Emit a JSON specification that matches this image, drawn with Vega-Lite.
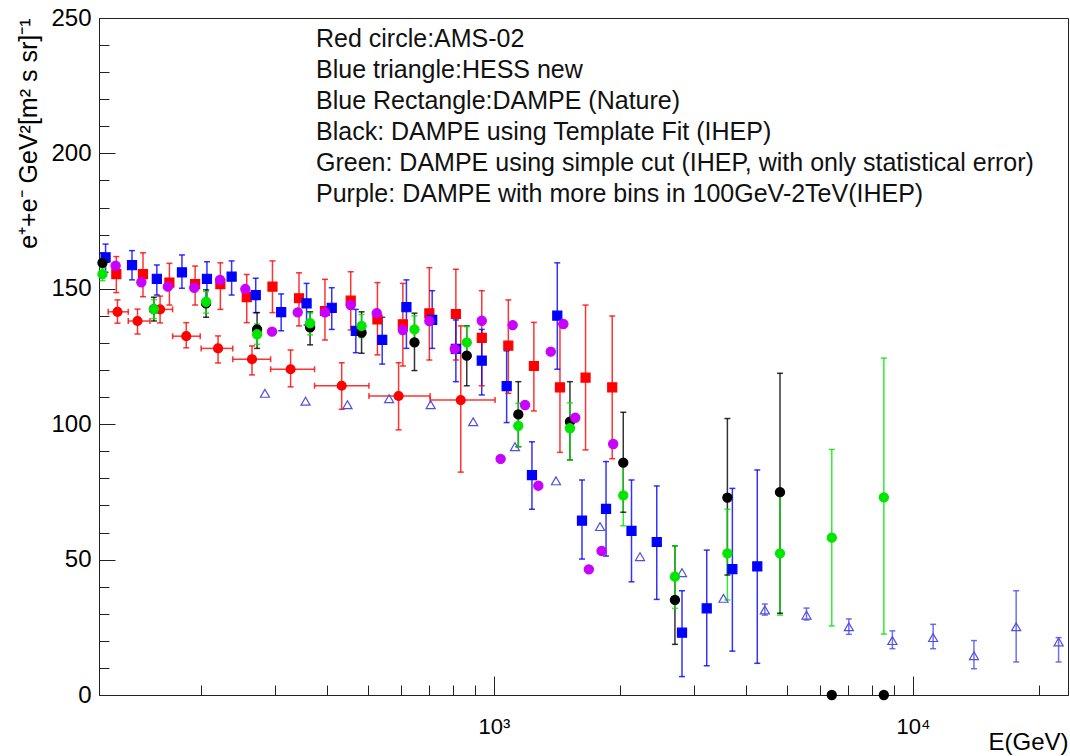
{
  "$schema": "https://vega.github.io/schema/vega-lite/v6.json",
  "width": 969,
  "height": 677,
  "autosize": {"type": "none"},
  "padding": {"left": 99, "top": 18, "right": 2, "bottom": 61},
  "background": "white",
  "config": {"view": {"stroke": "#222", "strokeWidth": 1}, "font": "Liberation Sans"},
  "resolve": {"axis": {"x": "independent", "y": "independent"}},
  "datasets": {
    "pts": [
      {"s":"AMS","E":126.3,"v":141.5,"lo":137.3,"hi":145.9,"Elo":120,"Ehi":134},
      {"s":"AMS","E":141,"v":138.1,"lo":133.3,"hi":142.5,"Elo":134,"Ehi":151},
      {"s":"AMS","E":159.6,"v":142.4,"lo":137.4,"hi":147.3,"Elo":151,"Ehi":171},
      {"s":"AMS","E":184.3,"v":132.5,"lo":128.2,"hi":137.5,"Elo":171,"Ehi":199},
      {"s":"AMS","E":219.5,"v":128.0,"lo":122.6,"hi":132.6,"Elo":200,"Ehi":238},
      {"s":"AMS","E":264.5,"v":124.0,"lo":118.2,"hi":128.9,"Elo":238,"Ehi":293},
      {"s":"AMS","E":327,"v":120.3,"lo":113.8,"hi":127.4,"Elo":293,"Ehi":373},
      {"s":"AMS","E":433,"v":114.2,"lo":105.5,"hi":122.7,"Elo":373,"Ehi":503},
      {"s":"AMS","E":592,"v":110.4,"lo":97.9,"hi":122.7,"Elo":503,"Ehi":704},
      {"s":"AMS","E":833,"v":108.9,"lo":82.3,"hi":136.3,"Elo":704,"Ehi":1006},

      {"s":"RedSq","E":125.5,"v":155.4,"lo":148.6,"hi":161.9},
      {"s":"RedSq","E":145.3,"v":155.4,"lo":147.1,"hi":163.3},
      {"s":"RedSq","E":168,"v":152.3,"lo":144.0,"hi":159.4},
      {"s":"RedSq","E":193.5,"v":151.7,"lo":144.0,"hi":158.4},
      {"s":"RedSq","E":222.3,"v":151.7,"lo":142.4,"hi":159.6},
      {"s":"RedSq","E":257,"v":146.9,"lo":137.5,"hi":155.3},
      {"s":"RedSq","E":296,"v":150.8,"lo":141.2,"hi":160.3},
      {"s":"RedSq","E":342.5,"v":146.5,"lo":136.3,"hi":155.9},
      {"s":"RedSq","E":395,"v":141.8,"lo":131.1,"hi":153.5},
      {"s":"RedSq","E":455,"v":145.6,"lo":134.8,"hi":156.3},
      {"s":"RedSq","E":527,"v":138.7,"lo":125.6,"hi":152.3},
      {"s":"RedSq","E":606,"v":136.9,"lo":121.5,"hi":152.0},
      {"s":"RedSq","E":701,"v":140.9,"lo":123.7,"hi":157.8},
      {"s":"RedSq","E":811,"v":140.7,"lo":123.7,"hi":157.2},
      {"s":"RedSq","E":935,"v":131.9,"lo":114.2,"hi":149.3},
      {"s":"RedSq","E":1082,"v":129.0,"lo":111.4,"hi":145.9},
      {"s":"RedSq","E":1245,"v":121.5,"lo":104.9,"hi":137.6},
      {"s":"RedSq","E":1437,"v":113.6,"lo":89.6,"hi":137.0},
      {"s":"RedSq","E":1654,"v":117.2,"lo":90.5,"hi":144.0},
      {"s":"RedSq","E":1915,"v":113.6,"lo":87.2,"hi":140.0},

      {"s":"DAMPE","E":118.3,"v":161.6,"lo":156.1,"hi":166.5},
      {"s":"DAMPE","E":136.8,"v":158.7,"lo":153.3,"hi":164.1},
      {"s":"DAMPE","E":156.8,"v":153.7,"lo":147.7,"hi":158.8},
      {"s":"DAMPE","E":180,"v":156.1,"lo":150.2,"hi":162.5},
      {"s":"DAMPE","E":206.5,"v":153.7,"lo":145.2,"hi":160.0},
      {"s":"DAMPE","E":236.5,"v":154.5,"lo":147.7,"hi":160.3},
      {"s":"DAMPE","E":270,"v":147.7,"lo":141.2,"hi":153.9},
      {"s":"DAMPE","E":310.5,"v":141.4,"lo":134.5,"hi":148.1},
      {"s":"DAMPE","E":357,"v":144.6,"lo":136.6,"hi":152.0},
      {"s":"DAMPE","E":410,"v":143.0,"lo":135.0,"hi":150.4},
      {"s":"DAMPE","E":468,"v":134.5,"lo":126.4,"hi":142.4},
      {"s":"DAMPE","E":541,"v":131.1,"lo":122.2,"hi":139.5},
      {"s":"DAMPE","E":618,"v":143.2,"lo":128.0,"hi":153.3},
      {"s":"DAMPE","E":712,"v":138.5,"lo":128.0,"hi":149.3},
      {"s":"DAMPE","E":811,"v":127.8,"lo":115.7,"hi":138.5},
      {"s":"DAMPE","E":935,"v":123.5,"lo":110.8,"hi":135.0},
      {"s":"DAMPE","E":1072,"v":114.1,"lo":100.6,"hi":127.1},
      {"s":"DAMPE","E":1232,"v":81.2,"lo":68.6,"hi":93.5},
      {"s":"DAMPE","E":1416,"v":140.1,"lo":120.3,"hi":159.6},
      {"s":"DAMPE","E":1622,"v":64.4,"lo":50.2,"hi":79.4},
      {"s":"DAMPE","E":1851,"v":68.7,"lo":51.3,"hi":86.2},
      {"s":"DAMPE","E":2129,"v":60.6,"lo":41.8,"hi":79.4},
      {"s":"DAMPE","E":2446,"v":56.5,"lo":35.3,"hi":77.2},
      {"s":"DAMPE","E":2810,"v":23.0,"lo":6.8,"hi":38.5},
      {"s":"DAMPE","E":3219,"v":32.0,"lo":10.8,"hi":53.5},
      {"s":"DAMPE","E":3706,"v":46.5,"lo":16.2,"hi":76.3},
      {"s":"DAMPE","E":4250,"v":47.5,"lo":11.7,"hi":83.1},

      {"s":"HESS","E":284,"v":111.4},
      {"s":"HESS","E":355,"v":108.5},
      {"s":"HESS","E":447,"v":107.2},
      {"s":"HESS","E":562,"v":109.4},
      {"s":"HESS","E":706,"v":107.2},
      {"s":"HESS","E":892,"v":100.9},
      {"s":"HESS","E":1122,"v":91.7},
      {"s":"HESS","E":1406,"v":79.1},
      {"s":"HESS","E":1791,"v":62.2},
      {"s":"HESS","E":2231,"v":51.1},
      {"s":"HESS","E":2810,"v":45.2},
      {"s":"HESS","E":3530,"v":35.7},
      {"s":"HESS","E":4430,"v":31.4,"lo":29.5,"hi":33.6},
      {"s":"HESS","E":5570,"v":29.5,"lo":27.7,"hi":32.1},
      {"s":"HESS","E":7030,"v":25.2,"lo":22.4,"hi":28.1},
      {"s":"HESS","E":8930,"v":20.1,"lo":17.1,"hi":23.7},
      {"s":"HESS","E":11170,"v":21.2,"lo":17.1,"hi":26.1},
      {"s":"HESS","E":13980,"v":14.5,"lo":9.7,"hi":20.1},
      {"s":"HESS","E":17630,"v":25.2,"lo":12.2,"hi":38.5},
      {"s":"HESS","E":22260,"v":19.6,"lo":12.2,"hi":21.2},

      {"s":"Black","E":116.3,"v":159.6,"lo":156.2,"hi":163.2},
      {"s":"Black","E":154.3,"v":142.5,"lo":138.1,"hi":146.9},
      {"s":"Black","E":205.5,"v":144.6,"lo":139.5,"hi":149.6},
      {"s":"Black","E":272,"v":135.0,"lo":128.0,"hi":141.2},
      {"s":"Black","E":364,"v":135.8,"lo":129.3,"hi":141.5},
      {"s":"Black","E":483,"v":133.8,"lo":126.2,"hi":141.5},
      {"s":"Black","E":646,"v":130.2,"lo":119.8,"hi":141.0},
      {"s":"Black","E":861,"v":125.3,"lo":114.2,"hi":136.3},
      {"s":"Black","E":1143,"v":103.6,"lo":91.7,"hi":115.7},
      {"s":"Black","E":1518,"v":100.9,"lo":86.8,"hi":115.7},
      {"s":"Black","E":2035,"v":85.8,"lo":67.5,"hi":104.4},
      {"s":"Black","E":2703,"v":35.1,"lo":18.7,"hi":55.1},
      {"s":"Black","E":3606,"v":72.9,"lo":44.3,"hi":102.1},
      {"s":"Black","E":4815,"v":74.9,"lo":30.2,"hi":118.8},
      {"s":"Black","E":6400,"v":0},
      {"s":"Black","E":8520,"v":0},

      {"s":"Green","E":116.3,"v":155.4,"lo":153.0,"hi":157.8},
      {"s":"Green","E":154.3,"v":142.5,"lo":139.0,"hi":146.0},
      {"s":"Green","E":205.5,"v":145.2,"lo":141.0,"hi":149.0},
      {"s":"Green","E":272,"v":133.2,"lo":129.5,"hi":137.0},
      {"s":"Green","E":364,"v":137.3,"lo":133.0,"hi":141.0},
      {"s":"Green","E":483,"v":136.3,"lo":132.0,"hi":140.5},
      {"s":"Green","E":646,"v":135.0,"lo":130.0,"hi":140.0},
      {"s":"Green","E":861,"v":130.2,"lo":125.0,"hi":136.0},
      {"s":"Green","E":1143,"v":99.4,"lo":91.7,"hi":107.7},
      {"s":"Green","E":1518,"v":98.5,"lo":86.8,"hi":107.9},
      {"s":"Green","E":2035,"v":73.7,"lo":62.5,"hi":85.6},
      {"s":"Green","E":2703,"v":43.7,"lo":32.0,"hi":55.1},
      {"s":"Green","E":3606,"v":52.3,"lo":35.1,"hi":68.6},
      {"s":"Green","E":4815,"v":52.3,"lo":29.5,"hi":75.1},
      {"s":"Green","E":6400,"v":58.1,"lo":25.5,"hi":90.7},
      {"s":"Green","E":8520,"v":73.0,"lo":22.5,"hi":124.4},

      {"s":"Purple","E":125,"v":158.5},
      {"s":"Purple","E":144,"v":152.4},
      {"s":"Purple","E":166.6,"v":150.8},
      {"s":"Purple","E":192.6,"v":150.4},
      {"s":"Purple","E":221.9,"v":153.3},
      {"s":"Purple","E":255,"v":149.9},
      {"s":"Purple","E":295.3,"v":134.2},
      {"s":"Purple","E":340,"v":141.3},
      {"s":"Purple","E":395,"v":141.3},
      {"s":"Purple","E":455,"v":144.0},
      {"s":"Purple","E":525,"v":141.0},
      {"s":"Purple","E":606,"v":134.8},
      {"s":"Purple","E":701,"v":138.1},
      {"s":"Purple","E":806,"v":127.8},
      {"s":"Purple","E":935,"v":138.2},
      {"s":"Purple","E":1037,"v":87.2},
      {"s":"Purple","E":1108,"v":136.6},
      {"s":"Purple","E":1186,"v":107.1},
      {"s":"Purple","E":1276,"v":77.3},
      {"s":"Purple","E":1366,"v":126.8},
      {"s":"Purple","E":1464,"v":137.0},
      {"s":"Purple","E":1563,"v":102.4},
      {"s":"Purple","E":1684,"v":46.4},
      {"s":"Purple","E":1806,"v":53.2},
      {"s":"Purple","E":1925,"v":92.7}
    ],
    "notes": [
      {"E":376,"v":239.4,"line":"Red circle:AMS-02"},
      {"E":376,"v":228.0,"line":"Blue triangle:HESS new"},
      {"E":376,"v":216.5,"line":"Blue Rectangle:DAMPE (Nature)"},
      {"E":376,"v":205.1,"line":"Black: DAMPE using Template Fit (IHEP)"},
      {"E":376,"v":193.6,"line":"Green: DAMPE using simple cut (IHEP, with only statistical error)"},
      {"E":376,"v":182.2,"line":"Purple: DAMPE with more bins in 100GeV-2TeV(IHEP)"}
    ]
  },
  "layer": [
    {
      "data": {"name": "pts"},
      "transform": [{"filter": "isValid(datum.Elo)"}],
      "mark": {"type": "rule", "strokeWidth": 1.5, "opacity": 0.8},
      "encoding": {
        "x": {"field": "Elo", "type": "quantitative", "scale": {"type": "log", "domain": [114.1, 23440], "nice": false}, "axis": null},
        "x2": {"field": "Ehi"},
        "y": {"field": "v", "type": "quantitative", "scale": {"domain": [0, 250], "nice": false, "zero": false}, "axis": null},
        "color": {"field": "s", "type": "nominal", "legend": null, "scale": {"domain": ["AMS","RedSq","DAMPE","HESS","Black","Green","Purple"], "range": ["#ff0000","#ff0000","#0000ff","#4d4de6","#000000","#00e600","#c800ff"]}}
      }
    },
    {
      "data": {"name": "pts"},
      "transform": [{"filter": "isValid(datum.Elo)"}, {"fold": ["Elo", "Ehi"], "as": ["bound", "bx"]}],
      "mark": {"type": "tick", "orient": "vertical", "size": 6, "thickness": 1.5, "opacity": 0.8},
      "encoding": {
        "x": {"field": "bx", "type": "quantitative", "scale": {"type": "log", "domain": [114.1, 23440], "nice": false}, "axis": null},
        "y": {"field": "v", "type": "quantitative", "scale": {"domain": [0, 250], "nice": false, "zero": false}, "axis": null},
        "color": {"field": "s", "type": "nominal", "legend": null, "scale": {"domain": ["AMS","RedSq","DAMPE","HESS","Black","Green","Purple"], "range": ["#ff0000","#ff0000","#0000ff","#4d4de6","#000000","#00e600","#c800ff"]}}
      }
    },
    {
      "data": {"name": "pts"},
      "transform": [{"filter": "isValid(datum.lo)"}],
      "mark": {"type": "rule", "strokeWidth": 1.5, "opacity": 0.8},
      "encoding": {
        "x": {"field": "E", "type": "quantitative", "scale": {"type": "log", "domain": [114.1, 23440], "nice": false},
              "axis": {"orient": "bottom", "values": [200,300,400,500,600,700,800,900,2000,3000,4000,5000,6000,7000,8000,9000,20000], "tickSize": -10, "tickColor": "#222", "labels": false, "domain": false, "grid": false, "title": null}},
        "y": {"field": "lo", "type": "quantitative", "scale": {"domain": [0, 250], "nice": false, "zero": false},
              "axis": {"orient": "left", "values": [10,20,30,40,60,70,80,90,110,120,130,140,160,170,180,190,210,220,230,240], "tickSize": -10, "tickColor": "#222", "labels": false, "domain": false, "grid": false, "title": null}},
        "y2": {"field": "hi"},
        "color": {"field": "s", "type": "nominal", "legend": null, "scale": {"domain": ["AMS","RedSq","DAMPE","HESS","Black","Green","Purple"], "range": ["#ff0000","#ff0000","#0000ff","#4d4de6","#000000","#00e600","#c800ff"]}}
      }
    },
    {
      "data": {"name": "pts"},
      "transform": [{"filter": "isValid(datum.lo)"}, {"fold": ["lo", "hi"], "as": ["bound", "by"]}],
      "mark": {"type": "tick", "orient": "horizontal", "size": 6, "thickness": 1.5, "opacity": 0.8},
      "encoding": {
        "x": {"field": "E", "type": "quantitative", "scale": {"type": "log", "domain": [114.1, 23440], "nice": false}, "axis": null},
        "y": {"field": "by", "type": "quantitative", "scale": {"domain": [0, 250], "nice": false, "zero": false}, "axis": null},
        "color": {"field": "s", "type": "nominal", "legend": null, "scale": {"domain": ["AMS","RedSq","DAMPE","HESS","Black","Green","Purple"], "range": ["#ff0000","#ff0000","#0000ff","#4d4de6","#000000","#00e600","#c800ff"]}}
      }
    },
    {
      "data": {"name": "pts"},
      "mark": {"type": "point", "filled": true, "strokeWidth": 1.2, "opacity": 1},
      "encoding": {
        "x": {"field": "E", "type": "quantitative", "scale": {"type": "log", "domain": [114.1, 23440], "nice": false},
              "axis": {"orient": "bottom", "values": [1000, 10000], "labelExpr": "datum.value === 1000 ? '10³' : '10⁴'", "tickSize": -19, "tickColor": "#222", "domainColor": "#222", "labelPadding": 40, "labelFontSize": 22, "labelFont": "Liberation Sans", "labelColor": "#000", "labelFlush": false, "grid": false,
                       "title": "E(GeV)", "titleFont": "Liberation Sans", "titleFontSize": 24, "titleFontWeight": "normal", "titleColor": "#000", "titleAnchor": "end", "titleAlign": "right", "titleBaseline": "alphabetic", "titleX": 969, "titleY": 54}},
        "y": {"field": "v", "type": "quantitative", "scale": {"domain": [0, 250], "nice": false, "zero": false},
              "axis": {"orient": "left", "values": [0, 50, 100, 150, 200, 250], "tickSize": -16, "tickColor": "#222", "domainColor": "#222", "labelPadding": 24, "labelFontSize": 24, "labelFont": "Liberation Sans", "labelColor": "#000", "grid": false,
                       "title": "e⁺+e⁻  GeV²[m² s sr]⁻¹", "titleFont": "Liberation Sans", "titleFontSize": 25, "titleFontWeight": "normal", "titleColor": "#000", "titleAnchor": "end", "titlePadding": 9}},
        "fill": {"field": "s", "type": "nominal", "legend": null, "scale": {"domain": ["AMS","RedSq","DAMPE","HESS","Black","Green","Purple"], "range": ["#ff0000","#ff0000","#0000ff","transparent","#000000","#00e600","#c800ff"]}},
        "stroke": {"field": "s", "type": "nominal", "legend": null, "scale": {"domain": ["AMS","RedSq","DAMPE","HESS","Black","Green","Purple"], "range": ["#ff0000","#ff0000","#0000ff","#5050e0","#000000","#00e600","#c800ff"]}},
        "shape": {"field": "s", "type": "nominal", "legend": null, "scale": {"domain": ["AMS","RedSq","DAMPE","HESS","Black","Green","Purple"], "range": ["circle","square","square","triangle-up","circle","circle","circle"]}},
        "size": {"field": "s", "type": "nominal", "legend": null, "scale": {"domain": ["AMS","RedSq","DAMPE","HESS","Black","Green","Purple"], "range": [80,85,70,60,40,40,40]}}
      }
    },
    {
      "data": {"name": "notes"},
      "mark": {"type": "text", "align": "left", "baseline": "alphabetic", "fontSize": 25, "font": "Liberation Sans", "color": "#111"},
      "encoding": {
        "x": {"field": "E", "type": "quantitative", "scale": {"type": "log", "domain": [114.1, 23440], "nice": false}, "axis": null},
        "y": {"field": "v", "type": "quantitative", "scale": {"domain": [0, 250], "nice": false, "zero": false}, "axis": null},
        "text": {"field": "line"}
      }
    }
  ]
}
